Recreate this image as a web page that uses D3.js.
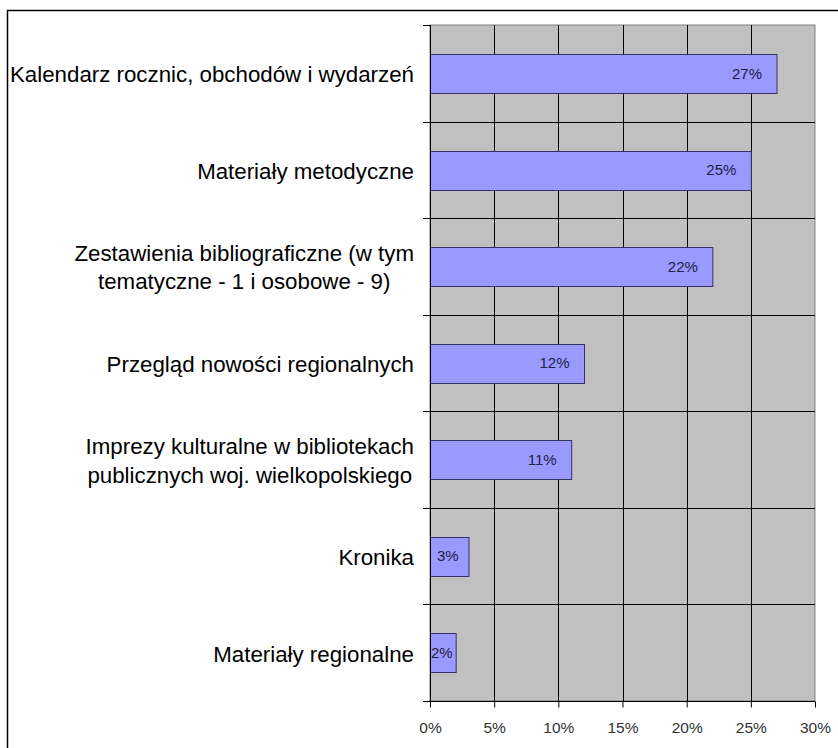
<!DOCTYPE html>
<html>
<head>
<meta charset="utf-8">
<script src="https://cdn.jsdelivr.net/npm/d3@7"></script>
<style>
  body { margin: 0; background: #fff; }
  text { font-family: Arial, "Liberation Sans", sans-serif; }
</style>
</head>
<body>
<div id="chart"></div>
<script>
// kategorie (od góry) i wartości w %
var categories = [
    ["Kalendarz rocznic, obchodów i wydarzeń"],
    ["Materiały metodyczne"],
    ["Zestawienia bibliograficzne (w tym", "tematyczne - 1 i osobowe - 9)"],
    ["Przegląd nowości regionalnych"],
    ["Imprezy kulturalne w bibliotekach", "publicznych woj. wielkopolskiego"],
    ["Kronika"],
    ["Materiały regionalne"]
];
var values = [27, 25, 22, 12, 11, 3, 2];
var xTicks = [0, 5, 10, 15, 20, 25, 30];

function draw() {
    "use strict";
    var W = 838, H = 748;
    var left = 430, right = 815, top = 25, bottom = 701;

    var svg = d3.select("#chart").append("svg")
        .attr("width", W).attr("height", H);

    // ramka wokół całego wykresu
    svg.append("rect")
        .attr("x", 7.5).attr("y", 10.5)
        .attr("width", W + 10).attr("height", H + 10)
        .attr("fill", "white").attr("stroke", "black").attr("stroke-width", 1.5);

    var x = d3.scaleLinear().domain([0, 30]).range([left, right]);
    var y = d3.scaleBand().domain(d3.range(categories.length))
        .range([top, bottom]).paddingInner(0.6).paddingOuter(0.3);
    var step = y.step();

    // tło obszaru wykresu
    svg.append("rect")
        .attr("x", left).attr("y", top)
        .attr("width", right - left).attr("height", bottom - top)
        .attr("fill", "#c0c0c0").attr("stroke", "#808080");

    // pionowe linie siatki
    svg.append("g").selectAll("line")
        .data(xTicks.slice(1, -1))
        .enter().append("line")
        .attr("x1", function(d) { return Math.round(x(d)) + 0.5; })
        .attr("x2", function(d) { return Math.round(x(d)) + 0.5; })
        .attr("y1", top).attr("y2", bottom)
        .attr("stroke", "black");

    // poziome linie między kategoriami + znaczniki osi
    var bounds = d3.range(categories.length + 1).map(function(i) { return top + i * step; });
    svg.append("g").selectAll("line")
        .data(bounds)
        .enter().append("line")
        .attr("x1", left - 7)
        .attr("x2", function(d, i) { return (i === 0 || i === bounds.length - 1) ? left : right; })
        .attr("y1", function(d) { return Math.round(d) + 0.5; })
        .attr("y2", function(d) { return Math.round(d) + 0.5; })
        .attr("stroke", "black");

    // słupki
    svg.append("g").selectAll("rect")
        .data(values)
        .enter().append("rect")
        .attr("x", left + 0.5)
        .attr("y", function(d, i) { return Math.round(y(i)) + 0.5; })
        .attr("width", function(d) { return x(d) - left; })
        .attr("height", Math.round(y.bandwidth()))
        .attr("fill", "#9999ff")
        .attr("stroke", "#333366");

    // oś X
    var xAxis = d3.axisBottom(x).tickValues(xTicks)
        .tickFormat(function(d) { return d + "%"; })
        .tickSize(6).tickPadding(14);
    var gx = svg.append("g")
        .attr("transform", "translate(0," + (bottom + 0.5) + ")")
        .call(xAxis);
    gx.select(".domain").attr("stroke", "black").attr("d", "M" + left + ",0H" + right);
    gx.selectAll(".tick line").attr("stroke", "black");
    gx.selectAll(".tick text")
        .attr("font-size", "15.5px").attr("fill", "#333")
        .attr("font-family", "Arial, 'Liberation Sans', sans-serif");

    // oś Y (linia)
    svg.append("line")
        .attr("x1", left + 0.5).attr("x2", left + 0.5)
        .attr("y1", top).attr("y2", bottom)
        .attr("stroke", "black");

    // etykiety wartości (wewnątrz końca słupka)
    svg.append("g").selectAll("text")
        .data(values)
        .enter().append("text")
        .attr("y", function(d, i) { return y(i) + y.bandwidth() / 2; })
        .attr("dy", "0.35em")
        .attr("text-anchor", "end")
        .attr("font-size", "15px")
        .attr("fill", "#222244")
        .text(function(d) { return d + "%"; })
        .attr("x", function(d) {
            var w = this.getComputedTextLength();
            var end = x(d);
            return Math.max(end - 14.5, Math.min(left + 7 + w, end - 3));
        });

    // etykiety kategorii
    var labelRight = 414;
    var lh = 28.5;
    svg.append("g").selectAll("g")
        .data(categories)
        .enter().append("g")
        .each(function(lines, i) {
            var g = d3.select(this);
            var cy = y(i) + y.bandwidth() / 2;
            var t = g.selectAll("text").data(lines).enter().append("text")
                .attr("font-size", "22.3px")
                .attr("fill", "black")
                .attr("text-anchor", "middle")
                .attr("dy", "0.35em")
                .attr("y", function(d, j) { return cy + 1 + (j - (lines.length - 1) / 2) * lh; })
                .text(function(d) { return d; });
            var maxW = 0;
            t.each(function() { maxW = Math.max(maxW, this.getComputedTextLength()); });
            t.attr("x", labelRight - maxW / 2);
        });
}

draw();
</script>
</body>
</html>
